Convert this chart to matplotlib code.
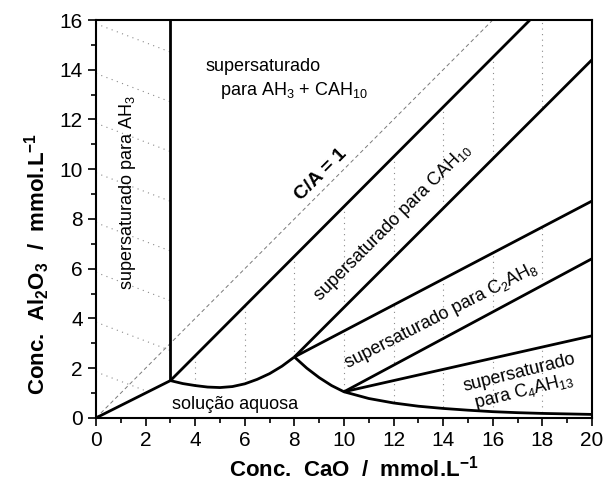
import numpy as np
import matplotlib
matplotlib.use('Agg')
import matplotlib.pyplot as plt
from matplotlib.patches import Polygon
from matplotlib.ticker import MultipleLocator

plt.rcParams['font.family'] = ['Liberation Sans', 'DejaVu Sans']
plt.rcParams['mathtext.fontset'] = 'custom'
plt.rcParams['mathtext.rm'] = 'Liberation Sans'
plt.rcParams['mathtext.default'] = 'regular'

# solubility curves (CaO, Al2O3 in mmol/L)
cah10_x = [3, 3.5, 4, 4.5, 5, 5.5, 6, 6.5, 7, 7.5, 8]
cah10_y = [1.5, 1.38, 1.3, 1.24, 1.22, 1.26, 1.37, 1.55, 1.78, 2.08, 2.45]
c2ah8_x = [8, 8.5, 9, 9.5, 10]
c2ah8_y = [2.45, 2.0, 1.62, 1.3, 1.05]
c4ah13_x = [10, 11, 12, 13, 14, 15, 16, 17, 18, 19, 20]
c4ah13_y = [1.05, 0.78, 0.6, 0.47, 0.38, 0.31, 0.25, 0.21, 0.18, 0.16, 0.14]

# straight boundaries (end points)
ah3_x, ah3_y = [0, 3], [0, 1.5]
vert_x, vert_y = [3, 3], [1.5, 16]
l1_x, l1_y = [3, 17.5], [1.5, 16]
l2_x, l2_y = [8, 20], [2.45, 14.4]
l3_x, l3_y = [8, 20], [2.45, 8.72]
l4_x, l4_y = [10, 20], [1.05, 6.4]
l5_x, l5_y = [10, 20], [1.05, 3.3]
ca1_x, ca1_y = [0, 16], [0, 16]

# hatching
grid_x = [2, 4, 6, 8, 10, 12, 14, 16, 18]
diag_c = [1.85, 3.85, 5.85, 7.85, 9.85, 11.85, 13.85, 15.85]
diag_slope = -0.38

fig = plt.figure(figsize=(6.04, 4.82), dpi=100)
ax = fig.add_axes([0.159, 0.133, 0.821, 0.8255])
ax.set_xlim(0, 20)
ax.set_ylim(0, 16)

# regions to hatch
reg_ah3 = list(zip(ah3_x + [3, 0], ah3_y + [16, 16]))
reg_cah10 = [(3, 1.5), (17.5, 16), (20, 16), (20, 14.4)] + list(zip(cah10_x[::-1], cah10_y[::-1]))
reg_c2ah8 = [(8, 2.45), (20, 8.72), (20, 6.4)] + list(zip(c2ah8_x[::-1], c2ah8_y[::-1]))
reg_c4ah13 = [(10, 1.05), (20, 3.3)] + list(zip(c4ah13_x[::-1], c4ah13_y[::-1]))

hatch_kw = dict(color='#8a8a8a', lw=0.8, ls=(0, (1, 4)), zorder=1)
for reg in [reg_cah10, reg_c2ah8, reg_c4ah13]:
    poly = Polygon(reg, closed=True, transform=ax.transData)
    for gx in grid_x:
        ln, = ax.plot([gx, gx], [0, 16], **hatch_kw)
        ln.set_clip_path(poly)

poly = Polygon(reg_ah3, closed=True, transform=ax.transData)
xs = np.array([0, 3])
for c in diag_c:
    ln, = ax.plot(xs, c + diag_slope * xs, **hatch_kw)
    ln.set_clip_path(poly)

ax.plot(ca1_x, ca1_y, color='#7a7a7a', lw=0.7, ls=(0, (4, 3)), zorder=2)

solid = dict(color='black', lw=2, zorder=3, solid_capstyle='butt')
for x, y in [(ah3_x, ah3_y), (vert_x, vert_y), (l1_x, l1_y), (l2_x, l2_y),
             (l3_x, l3_y), (l4_x, l4_y), (l5_x, l5_y)]:
    ax.plot(x, y, **solid)
ax.plot(cah10_x, cah10_y, **solid)
ax.plot(c2ah8_x + c4ah13_x[1:], c2ah8_y + c4ah13_y[1:], **solid)

# labels inside the diagram
fs = 13
ax.text(4.4, 14.15, 'supersaturado', fontsize=fs, ha='left', va='center')
ax.text(5.0, 13.15, 'para AH$_3$ + CAH$_{10}$', fontsize=fs, ha='left', va='center')
ax.text(1.25, 9.05, 'supersaturado para AH$_3$', fontsize=fs, rotation=90,
        ha='center', va='center')
ax.text(9.07, 9.77, 'C/A = 1', fontsize=14, fontweight='bold', rotation=45,
        ha='center', va='center')
ax.text(11.94, 7.84, 'supersaturado para CAH$_{10}$', fontsize=fs, rotation=45,
        ha='center', va='center', rotation_mode='anchor')
ax.text(13.91, 4.1, 'supersaturado para C$_2$AH$_8$', fontsize=fs, rotation=27,
        ha='center', va='center', rotation_mode='anchor')
ax.text(17.18, 1.41, 'supersaturado\npara C$_4$AH$_{13}$', fontsize=fs, rotation=14,
        ha='center', va='center', multialignment='center', rotation_mode='anchor',
        linespacing=1.0)
ax.text(5.6, 0.37, 'solução aquosa', fontsize=fs, ha='center', va='baseline')

# axes styling
for sp in ax.spines.values():
    sp.set_linewidth(1.5)
ax.xaxis.set_major_locator(MultipleLocator(2))
ax.xaxis.set_minor_locator(MultipleLocator(1))
ax.yaxis.set_major_locator(MultipleLocator(2))
ax.yaxis.set_minor_locator(MultipleLocator(1))
ax.tick_params(which='both', direction='out', top=False, right=False, width=1.2,
               labelsize=15)
ax.tick_params(which='major', length=6)
ax.tick_params(which='minor', length=3.5)

ax.set_xlabel('Conc.  CaO  /  mmol.L$^{-1}$', fontsize=16, fontweight='bold')
ax.set_ylabel('Conc.  Al$_2$O$_3$  /  mmol.L$^{-1}$', fontsize=16, fontweight='bold')
ax.xaxis.set_label_coords(0.52, -0.095)
ax.yaxis.set_label_coords(-0.088, 0.387)

plt.savefig('out.png', dpi=100)
plt.close()
